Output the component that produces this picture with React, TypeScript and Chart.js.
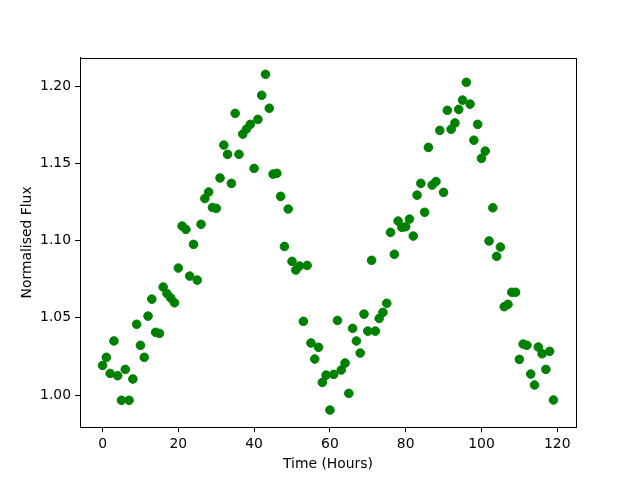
import React, { useEffect, useRef } from "react";
import { Chart, registerables } from "chart.js";

Chart.register(...registerables);

const hours = [
  0, 1, 2, 3, 4, 5, 6, 7, 8, 9, 10, 11, 12, 13, 14, 15, 16, 17, 18, 19,
  20, 21, 22, 23, 24, 25, 26, 27, 28, 29, 30, 31, 32, 33, 34, 35, 36, 37, 38, 39,
  40, 41, 42, 43, 44, 45, 46, 47, 48, 49, 50, 51, 52, 53, 54, 55, 56, 57, 58, 59,
  60, 61, 62, 63, 64, 65, 66, 67, 68, 69, 70, 71, 72, 73, 74, 75, 76, 77, 78, 79,
  80, 81, 82, 83, 84, 85, 86, 87, 88, 89, 90, 91, 92, 93, 94, 95, 96, 97, 98, 99,
  100, 101, 102, 103, 104, 105, 106, 107, 108, 109, 110, 111, 112, 113, 114, 115, 116, 117, 118, 119,
];

const flux = [
  1.0192, 1.0244, 1.014, 1.035, 1.0125, 0.9966, 1.0166, 0.9966, 1.0104, 1.0458,
  1.0322, 1.0244, 1.0511, 1.0621, 1.0406, 1.0399, 1.0699, 1.0657, 1.0628, 1.0597,
  1.0822, 1.1094, 1.1072, 1.077, 1.0975, 1.0744, 1.1105, 1.1272, 1.1314, 1.1214,
  1.1208, 1.1405, 1.1618, 1.1558, 1.137, 1.1823, 1.1558, 1.1689, 1.1722, 1.1752,
  1.1467, 1.1784, 1.194, 1.2076, 1.1856, 1.143, 1.1435, 1.1286, 1.0962, 1.1204,
  1.0865, 1.0809, 1.0835, 1.0477, 1.0839, 1.0337, 1.0233, 1.0309, 1.0082, 1.0129,
  0.9903, 1.0134, 1.0483, 1.0162, 1.0207, 1.0011, 1.0432, 1.035, 1.0272, 1.0524,
  1.0414, 1.0872, 1.0414, 1.0496, 1.0535, 1.0594, 1.1053, 1.0911, 1.1126, 1.1085,
  1.1089, 1.1139, 1.1029, 1.1294, 1.137, 1.1183, 1.1603, 1.1359, 1.1382, 1.1713,
  1.1312, 1.1843, 1.172, 1.1761, 1.1849, 1.1909, 1.2024, 1.1883, 1.1649, 1.1752,
  1.1532, 1.1579, 1.0997, 1.1212, 1.0898, 1.0958, 1.0572, 1.0587, 1.0665, 1.0665,
  1.0231, 1.033, 1.0322, 1.0136, 1.0065, 1.0311, 1.0267, 1.0166, 1.0283, 0.9968,
];

const xTicks = [0, 20, 40, 60, 80, 100, 120];
const yTicks = [1.0, 1.05, 1.1, 1.15, 1.2];

const xLabel = "Time (Hours)";
const yLabel = "Normalised Flux";

const font = { family: "DejaVu Sans", size: 13.9 };

const framePlugin = {
  id: "frame",
  afterDraw(chart: any) {
    const { ctx, chartArea } = chart;
    const l = Math.round(chartArea.left) + 0.5;
    const t = Math.round(chartArea.top) + 0.5;
    const r = Math.round(chartArea.right) + 0.5;
    const b = Math.round(chartArea.bottom) + 0.5;
    ctx.save();
    ctx.strokeStyle = "#000";
    ctx.lineWidth = 1;
    ctx.strokeRect(l, t, r - l, b - t);
    ctx.restore();
  },
};

export default function App() {
  const ref = useRef<HTMLCanvasElement | null>(null);

  useEffect(() => {
    document.body.style.margin = "0";
    const canvas = ref.current;
    if (!canvas) return;
    const chart = new Chart(canvas, {
      type: "scatter",
      data: {
        datasets: [
          {
            data: hours.map((h, i) => ({ x: h, y: flux[i] })),
            backgroundColor: "#008000",
            borderColor: "#008000",
            borderWidth: 1,
            pointRadius: 4.3,
            pointHoverRadius: 4.3,
          },
        ],
      },
      options: {
        responsive: false,
        animation: false,
        devicePixelRatio: 1,
        events: [],
        layout: { padding: { left: 0, right: 64, top: 57.6, bottom: 0 } },
        plugins: { legend: { display: false }, tooltip: { enabled: false } },
        scales: {
          x: {
            type: "linear",
            min: -5.95,
            max: 124.95,
            afterBuildTicks: (s: any) => {
              s.ticks = xTicks.map((v) => ({ value: v }));
            },
            afterFit: (s: any) => {
              s.height = 52.8;
            },
            ticks: {
              font,
              color: "#000",
              padding: 4,
              maxRotation: 0,
              autoSkip: false,
              callback: (v: any) => String(v),
            },
            grid: {
              drawOnChartArea: false,
              drawTicks: true,
              tickLength: 5,
              tickColor: "#000",
              tickWidth: 1,
            },
            border: { display: true, color: "#000", width: 1 },
            title: {
              display: true,
              text: xLabel,
              font,
              color: "#000",
              padding: { top: 0, bottom: 7 },
            },
          },
          y: {
            type: "linear",
            min: 0.9792,
            max: 1.2184,
            afterBuildTicks: (s: any) => {
              s.ticks = yTicks.map((v) => ({ value: v }));
            },
            afterFit: (s: any) => {
              s.width = 80;
            },
            ticks: {
              font,
              color: "#000",
              padding: 4,
              autoSkip: false,
              callback: (v: any) => Number(v).toFixed(2),
            },
            grid: {
              drawOnChartArea: false,
              drawTicks: true,
              tickLength: 5,
              tickColor: "#000",
              tickWidth: 1,
            },
            border: { display: true, color: "#000", width: 1 },
            title: {
              display: true,
              text: yLabel,
              font,
              color: "#000",
              padding: { top: 19, bottom: 0 },
            },
          },
        },
      },
      plugins: [framePlugin],
    });
    return () => chart.destroy();
  }, []);

  return (
    <div style={{ position: "fixed", left: 0, top: 0, width: 640, height: 480, background: "#fff" }}>
      <canvas ref={ref} width={640} height={480} style={{ display: "block" }} />
    </div>
  );
}
